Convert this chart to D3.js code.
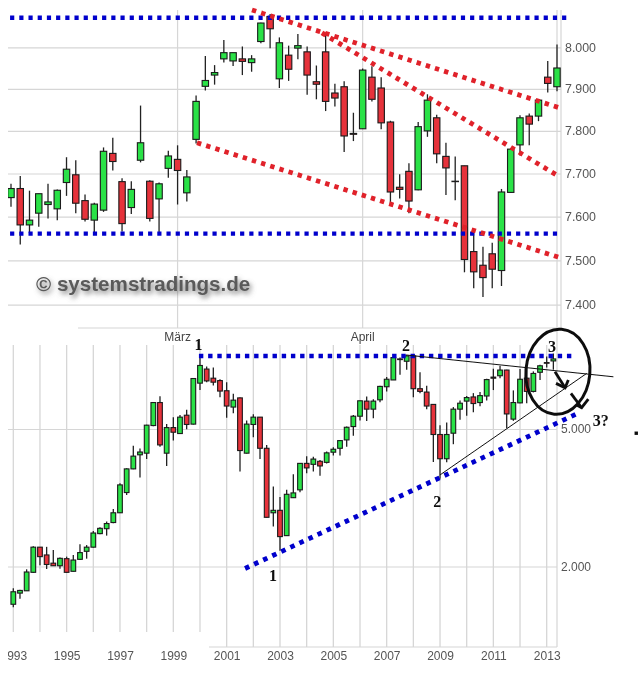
<!DOCTYPE html>
<html><head><meta charset="utf-8">
<script src="https://cdn.jsdelivr.net/npm/d3@7"></script>
<style>html,body{margin:0;padding:0;background:#fff}svg{display:block}
text{font-family:"Liberation Sans",Arial,sans-serif}</style></head>
<body><svg id="c" width="640" height="680"></svg>
<script>
// ---- upper chart (weekly candles) ----
const topOpen=[7644,7665,7581,7608,7628,7618,7679,7697,7637,7592,7615,7747,7681,7621,7731,7682,7641,7712,7733,7655,7780,7906,7933,7972,7967,7972,7963,8014,8075,7924,7981,7998,7989,7917,7989,7890,7905,7794,7805,7928,7902,7821,7668,7705,7662,7800,7831,7740,7682,7718,7520,7489,7515,7477,7656,7767,7835,7835,7928,7905];
const topClose=[7665,7581,7592,7653,7634,7661,7710,7631,7594,7629,7752,7728,7584,7663,7772,7596,7676,7741,7707,7692,7870,7920,7939,7987,7987,7966,7972,8059,8045,8011,7947,8004,7933,7911,7870,7878,7788,7792,7945,7875,7819,7657,7663,7636,7810,7873,7746,7713,7681,7502,7474,7461,7480,7657,7757,7831,7816,7873,7913,7950];
const topHigh=[7676,7694,7660,7653,7676,7663,7738,7731,7651,7632,7761,7784,7689,7682,7860,7684,7679,7753,7766,7708,7884,7979,7957,8018,7987,8002,7981,8060,8081,8024,8004,8032,8002,7956,8034,7912,7918,7843,7949,7954,7928,7824,7698,7724,7821,7887,7838,7772,7740,7718,7569,7531,7540,7664,7759,7837,7841,7874,7967,8007];
const topLow=[7623,7536,7562,7577,7596,7592,7648,7608,7589,7562,7611,7707,7566,7606,7726,7589,7562,7690,7628,7635,7770,7896,7910,7963,7955,7933,7941,8010,7998,7902,7919,7971,7886,7875,7847,7858,7750,7776,7805,7870,7804,7627,7642,7608,7661,7786,7724,7650,7638,7473,7437,7417,7437,7442,7655,7742,7766,7823,7891,7894];
const topTicks=[8000,7900,7800,7700,7600,7500,7400];
const monthTicks=[18,38];
const monthLabels=["März","April"];
const lastCandle=59;
const topSupport=[[-0.1,7561],[59.1,7561]];
const topResistance=[[-0.1,8072],[60.1,8072]];
const topRed1=[[26.04,8091],[59.5,7853]];
const topRed2=[[33.6,8035],[59.3,7692]];
const topRed3=[[20.1,7772],[59.5,7505]];
// ---- lower chart (quarterly candles, first at 1993.0) ----
const botOpen=[1555,1675,1701,1924,2275,2160,2045,2010,2107,1937,2098,2213,2275,2490,2573,2681,2861,3274,3833,4210,4256,5117,5964,4256,5047,4851,5481,5165,6787,7455,7015,6904,6452,5787,6152,4256,5153,5411,4397,2861,2908,2457,3164,3333,3976,3951,4032,4003,4284,4397,4649,5082,5445,6021,5707,6073,6626,6933,7976,7853,8138,6540,6395,5890,4820,4101,4862,5707,6021,6190,5964,6230,7065,7130,7405,5340,5951,7015,6424,7297,7783,7870];
const botClose=[1690,1705,1928,2275,2136,2027,2010,2112,1924,2088,2194,2275,2500,2579,2663,2861,3445,3833,4173,4289,5129,5964,4497,5047,4894,5411,5153,6999,7635,6889,6831,6438,5827,6060,4331,5166,5411,4397,2776,2908,2441,3236,3266,3976,3858,4092,3909,4265,4369,4628,5058,5445,6034,5707,6021,6641,6966,8048,7941,8138,6540,6424,5827,4820,4101,4820,5707,5938,6165,5925,6245,6950,7015,7405,5528,5964,6966,6424,7240,7619,7750,7976];
const botHigh=[1730,1712,1963,2290,2275,2280,2232,2122,2136,2160,2318,2307,2533,2597,2699,2935,3483,3850,4475,4390,5140,5977,6219,5166,5411,5493,5682,7015,8100,7586,7537,6966,6831,6321,6165,5293,5516,5411,4497,3408,3177,3333,3701,3984,4173,4154,4070,4303,4425,4649,5082,5493,6034,6204,6100,6671,7065,8066,8048,8210,8157,7297,6670,5890,5129,5222,5787,6047,6230,6350,6395,6985,7472,7620,7422,6467,7455,7504,7340,7668,8100,8270];
const botLow=[1525,1613,1701,1920,2018,1967,2006,1971,1920,1933,2088,2107,2270,2479,2457,2669,2855,3221,3825,3617,4092,5094,4444,3909,4631,4840,4989,5153,6481,6831,6685,6178,5389,5551,3767,4247,4736,4092,2770,2609,2222,2452,3157,3281,3726,3768,3662,3976,4191,4191,4444,4777,5293,5270,5375,5977,6424,6933,7179,7422,6178,6350,5707,4013,3590,4003,4518,5316,5458,5590,5815,6047,6481,7015,5023,5280,5938,5938,6380,6933,7537,7422];
const firstQuarter=1993;
const quartersPerYear=4;
const botTicks=[5000,2000];
const gridYears=[1993,1994,1995,1996,1997,1998,1999,2000,2001,2002,2003,2004,2005,2006,2007,2008,2009,2010,2011,2012,2013];
const labelYears=[1993,1995,1997,1999,2001,2003,2005,2007,2009,2011,2013];
const botResistance=[[1999.96,8135],[2013.99,8135]];
const botSupport=[[2001.69,1974],[2014.25,5587]];
const thinUpper=[[2007.77,8181],[2015.5,7081]];
const thinLower=[[2009,3682],[2014.5,7243]];
const arrow1=[[2013.31,7320],[2013.69,6581]];
const arrow1Head=[[2013.81,6927],[2013.69,6581],[2013.35,6777]];
const arrow2=[[2013.91,6340],[2014.31,5762]];
const arrow2Head=[[2014.56,6105],[2014.31,5762],[2014.12,5865]];
const ringYears=[2012.22,2014.62];
const ringPrices=[9726,5513];
const waveLabels=["1","1","2","2","3","3?"];
const waveYears=[1999.94,2002.74,2007.72,2008.9,2013.2,2015.03];
const wavePrices=[8802,1880,8743,3076,8685,5308];
const strayDot=[2016.35,4868];
const watermark="© systemstradings.de";

const GRID="#d6d6d6",GREEN="#2ae246",RED="#e6323a",BLUE="#0000cc",REDDOT="#e0202a",INK="#111",TXT="#555";
const svg=d3.select("#c");
const defs=svg.append("defs");
defs.append("clipPath").attr("id","clipL").append("rect").attr("x",8).attr("y",0).attr("width",632).attr("height",680);
const sh=defs.append("filter").attr("id","shadow").attr("x","-10%").attr("y","-50%").attr("width","120%").attr("height","220%");
sh.append("feDropShadow").attr("dx",2).attr("dy",3).attr("stdDeviation",2.8).attr("flood-color","#666").attr("flood-opacity",0.85);
const soft=defs.append("filter").attr("id","soft").attr("filterUnits","userSpaceOnUse").attr("x",0).attr("y",0).attr("width",640).attr("height",680);
soft.append("feGaussianBlur").attr("stdDeviation",0.3);

const de=d3.formatLocale({decimal:",",thousands:".",grouping:[3],currency:["","€"]});
const fmt=de.format(",");

// scales
const xT=d3.scaleLinear().domain([0,lastCandle]).range([11,557]);
const yT=d3.scaleLog().domain([7400,8000]).range([304.7,47.3]);
const xB=d3.scaleLinear().domain([1993,2013]).range([13.3,546.7]);
const yB=d3.scaleLog().domain([2000,5000]).range([566.5,429]);
const lineT=d3.line().x(d=>xT(d[0])).y(d=>yT(d[1]));
const lineB=d3.line().x(d=>xB(d[0])).y(d=>yB(d[1]));

const styleGrid=g=>{g.select(".domain").remove();g.selectAll(".tick line").attr("stroke",GRID).attr("stroke-width",1.2);
  g.selectAll("text").attr("fill",TXT).attr("font-family",'"Liberation Sans",Arial,sans-serif');};

const root=svg.append("g").attr("filter","url(#soft)").append("g").attr("clip-path","url(#clipL)");

// upper grid
root.append("g").attr("transform","translate(561,0)")
  .call(d3.axisRight(yT).tickValues(topTicks).tickFormat(fmt).tickSize(-553).tickPadding(4))
  .attr("font-size",12.4).call(styleGrid);
const vT=[...monthTicks,lastCandle];
root.selectAll(".vt").data(vT).join("line").attr("x1",d=>xT(d)).attr("x2",d=>xT(d)).attr("y1",10).attr("y2",328).attr("stroke",GRID).attr("stroke-width",1.2);
root.append("line").attr("x1",561).attr("x2",561).attr("y1",10).attr("y2",328).attr("stroke",GRID).attr("stroke-width",1.2);
root.append("line").attr("x1",78).attr("x2",561).attr("y1",328).attr("y2",328).attr("stroke",GRID).attr("stroke-width",1.2);
root.selectAll(".mon").data(monthTicks).join("text").attr("x",d=>xT(d)).attr("y",341).attr("text-anchor","middle").attr("font-size",12).attr("fill","#444").text((d,i)=>monthLabels[i]);

// lower grid
root.append("g").attr("transform","translate(557,0)")
  .call(d3.axisRight(yB).tickValues(botTicks).tickFormat(fmt).tickSize(-549).tickPadding(4))
  .attr("font-size",12).call(styleGrid);
root.selectAll(".vb").data(gridYears).join("line").attr("x1",d=>xB(d)).attr("x2",d=>xB(d)).attr("y1",345).attr("y2",d=>d<=2000?632:647).attr("stroke",GRID).attr("stroke-width",1.3);
root.append("line").attr("x1",557).attr("x2",557).attr("y1",328).attr("y2",647).attr("stroke",GRID).attr("stroke-width",1.2);
root.append("line").attr("x1",209).attr("x2",557).attr("y1",647).attr("y2",647).attr("stroke",GRID).attr("stroke-width",1.2);
root.append("g").attr("transform","translate(0,648)")
  .call(d3.axisBottom(xB).tickValues(labelYears).tickFormat(d3.format("d")).tickSize(0).tickPadding(3))
  .attr("font-size",12).call(styleGrid);

// candles
function candles(g,open,close,high,low,x,y,w){
  const data=open.map((o,i)=>({i,o,c:close[i],h:high[i],l:low[i]}));
  const s=g.selectAll("g").data(data).join("g");
  s.append("line").attr("x1",d=>x(d)).attr("x2",d=>x(d)).attr("y1",d=>y(d.h)).attr("y2",d=>y(d.l)).attr("stroke","#222").attr("stroke-width",1.3);
  s.append("rect").attr("x",d=>x(d)-w/2).attr("width",w)
    .attr("y",d=>y(Math.max(d.o,d.c))).attr("height",d=>Math.abs(y(d.o)-y(d.c)))
    .attr("fill",d=>d.c>=d.o?GREEN:RED).attr("stroke","#1a1a1a").attr("stroke-width",1.1);
}
candles(root.append("g"),topOpen,topClose,topHigh,topLow,d=>xT(d.i),yT,6.4);
candles(root.append("g"),botOpen,botClose,botHigh,botLow,d=>xB(firstQuarter+d.i/quartersPerYear),yB,4.7);

// dotted overlays
const dotted=(p,c,gen,w,dash)=>root.append("path").attr("d",gen(p)).attr("fill","none").attr("stroke",c).attr("stroke-width",w).attr("stroke-dasharray",dash);
dotted(topResistance,BLUE,lineT,4.4,"4.2 5");
dotted(topSupport,BLUE,lineT,4.4,"4.2 5");
dotted(topRed1,REDDOT,lineT,4.8,"4.4 5.2");
dotted(topRed2,REDDOT,lineT,4.8,"4.4 5.2");
dotted(topRed3,REDDOT,lineT,4.8,"4.4 5.2");
dotted(botResistance,BLUE,lineB,4.6,"4.4 4.8");
dotted(botSupport,BLUE,lineB,4.8,"4.6 5.4");

// thin trend lines
[thinUpper,thinLower].forEach(p=>root.append("path").attr("d",lineB(p)).attr("fill","none").attr("stroke",INK).attr("stroke-width",1));
// arrows
[arrow1,arrow1Head,arrow2,arrow2Head].forEach(p=>root.append("path").attr("d",lineB(p)).attr("fill","none").attr("stroke",INK).attr("stroke-width",2.8));
// ring
const rx=(xB(ringYears[1])-xB(ringYears[0]))/2, ry=(yB(ringPrices[1])-yB(ringPrices[0]))/2;
const cx=xB(ringYears[0])+rx, cy=yB(ringPrices[0])+ry;
root.append("ellipse").attr("cx",cx).attr("cy",cy).attr("rx",rx).attr("ry",ry)
  .attr("transform",`rotate(5 ${cx} ${cy})`).attr("fill","none").attr("stroke",INK).attr("stroke-width",3);
// wave labels
root.selectAll(".wv").data(waveLabels).join("text").attr("x",(d,i)=>xB(waveYears[i])).attr("y",(d,i)=>yB(wavePrices[i])+5.5)
  .attr("text-anchor","middle").attr("font-size",16).attr("font-weight","bold").attr("fill",INK)
  .style("font-family",'"Liberation Serif",serif').text(d=>d);
root.append("rect").attr("x",xB(strayDot[0])-1.5).attr("y",yB(strayDot[1])-1.5).attr("width",3.4).attr("height",3.4).attr("fill",INK);
// watermark
root.append("text").attr("x",36).attr("y",291).attr("font-size",20.6).attr("font-weight","bold").attr("fill","#5a5a5a")
  .attr("filter","url(#shadow)").text(watermark);
</script></body></html>
